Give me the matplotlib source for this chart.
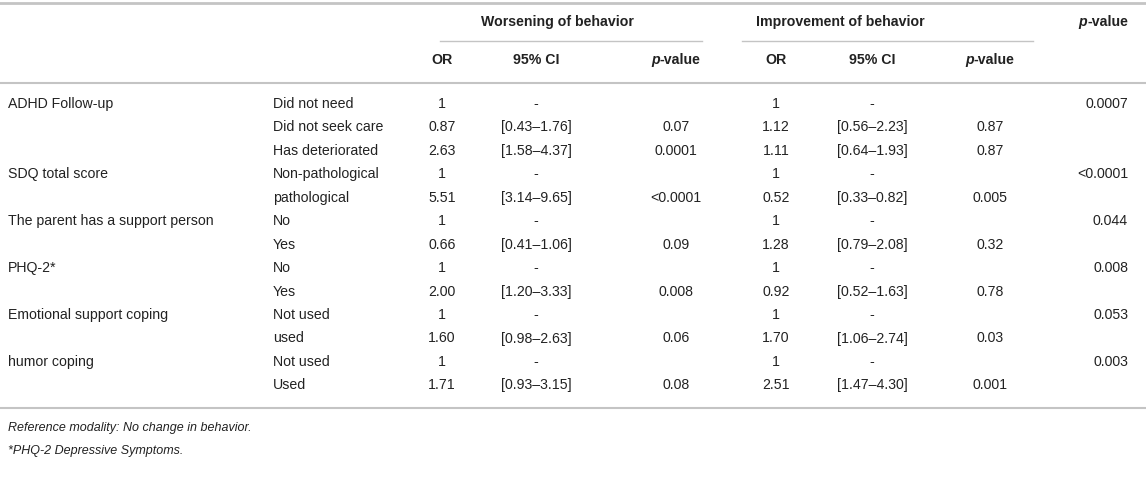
"""
Odds ratio table for behaviour change, drawn as text on a blank axes
"""

import matplotlib.pyplot as plt

plt.rcParams['font.family'] = ['Liberation Sans', 'DejaVu Sans']

variables = ["ADHD Follow-up", "", "", "SDQ total score", "",
             "The parent has a support person", "", "PHQ-2*", "",
             "Emotional support coping", "", "humor coping", ""]
modalities = ["Did not need", "Did not seek care", "Has deteriorated",
              "Non-pathological", "pathological", "No", "Yes", "No", "Yes",
              "Not used", "used", "Not used", "Used"]

worse_or = ["1", "0.87", "2.63", "1", "5.51", "1", "0.66", "1", "2.00",
            "1", "1.60", "1", "1.71"]
worse_ci = ["-", "[0.43\u20131.76]", "[1.58\u20134.37]", "-", "[3.14\u20139.65]",
            "-", "[0.41\u20131.06]", "-", "[1.20\u20133.33]", "-",
            "[0.98\u20132.63]", "-", "[0.93\u20133.15]"]
worse_p = ["", "0.07", "0.0001", "", "<0.0001", "", "0.09", "", "0.008",
           "", "0.06", "", "0.08"]

better_or = ["1", "1.12", "1.11", "1", "0.52", "1", "1.28", "1", "0.92",
             "1", "1.70", "1", "2.51"]
better_ci = ["-", "[0.56\u20132.23]", "[0.64\u20131.93]", "-", "[0.33\u20130.82]",
             "-", "[0.79\u20132.08]", "-", "[0.52\u20131.63]", "-",
             "[1.06\u20132.74]", "-", "[1.47\u20134.30]"]
better_p = ["", "0.87", "0.87", "", "0.005", "", "0.32", "", "0.78",
            "", "0.03", "", "0.001"]

overall_p = ["0.0007", "", "", "<0.0001", "", "0.044", "", "0.008", "",
             "0.053", "", "0.003", ""]

footnotes = ["Reference modality: No change in behavior.",
             "*PHQ-2 Depressive Symptoms."]

W, H = 1146, 491
fig = plt.figure(figsize=(W / 100, H / 100), dpi=100)
ax = fig.add_axes([0, 0, 1, 1])
ax.set_xlim(0, W)
ax.set_ylim(H, 0)
ax.axis('off')

txt = '#222222'
rule = '#c4c4c4'
fs = 10.2
renderer = fig.canvas.get_renderer()


def pvalue_header(x, y, anchor='center'):
    """
    Write a bold 'p-value' with an italic p, centred (or right aligned) at x
    """
    p = ax.text(0, y, "p", ha='left', va='center', fontsize=fs,
                fontweight='bold', style='italic', color=txt)
    rest = ax.text(0, y, "-value", ha='left', va='center', fontsize=fs,
                   fontweight='bold', color=txt)
    wp = p.get_window_extent(renderer).width
    wr = rest.get_window_extent(renderer).width
    total = wp + wr
    left = x - total / 2 if anchor == 'center' else x - total
    p.set_x(left)
    rest.set_x(left + wp)


# horizontal rules
ax.plot([0, W], [3, 3], color=rule, lw=2)
ax.plot([440, 702], [41, 41], color=rule, lw=1)
ax.plot([742, 1033], [41, 41], color=rule, lw=1)
ax.plot([0, W], [83, 83], color=rule, lw=1.5)
ax.plot([0, W], [408, 408], color=rule, lw=1.5)

# header
ax.text(557, 22, "Worsening of behavior", ha='center', va='center',
        fontsize=fs, fontweight='bold', color=txt)
ax.text(840, 22, "Improvement of behavior", ha='center', va='center',
        fontsize=fs, fontweight='bold', color=txt)
pvalue_header(1128, 22, anchor='right')

sub_x = [442, 536, 676, 776, 872, 990]
sub_lab = ["OR", "95% CI", None, "OR", "95% CI", None]
for x, lab in zip(sub_x, sub_lab):
    if lab is None:
        pvalue_header(x, 60)
    else:
        ax.text(x, 60, lab, ha='center', va='center', fontsize=fs,
                fontweight='bold', color=txt)

# body rows
row_y0, row_dy = 104, 23.45
cols = [worse_or, worse_ci, worse_p, better_or, better_ci, better_p]
for i in range(len(modalities)):
    y = row_y0 + i * row_dy
    ax.text(8, y, variables[i], ha='left', va='center', fontsize=fs, color=txt)
    ax.text(273, y, modalities[i], ha='left', va='center', fontsize=fs, color=txt)
    for x, col in zip(sub_x, cols):
        ax.text(x, y, col[i], ha='center', va='center', fontsize=fs, color=txt)
    ax.text(1128, y, overall_p[i], ha='right', va='center', fontsize=fs, color=txt)

for j, note in enumerate(footnotes):
    ax.text(8, 428 + j * 23, note, ha='left', va='center', fontsize=9,
            style='italic', color=txt)

fig.savefig('out.png', dpi=100)
